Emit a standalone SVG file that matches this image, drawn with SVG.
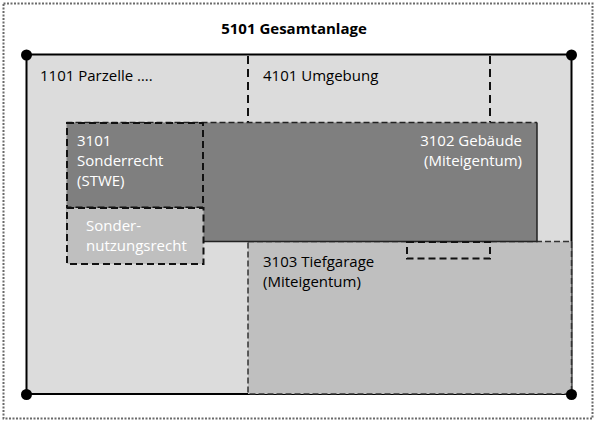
<svg xmlns="http://www.w3.org/2000/svg" width="596" height="423" viewBox="0 0 596 423">
<style>
.t{font-family:"Open Sans","Noto Sans","Liberation Sans",sans-serif;font-size:15px;fill:#000}
.w{fill:#ffffff}
.b{font-weight:bold}
.dash{fill:none;stroke:#111;stroke-width:2;stroke-dasharray:7 4}
</style>
<rect x="0" y="0" width="596" height="423" fill="#ffffff"/>
<rect id="frame" x="3.5" y="3.5" width="589" height="415" fill="none" stroke="#6a6a6a" stroke-width="2" stroke-dasharray="2 1.5"/>
<g id="title"><text class="t b" x="294" y="34" text-anchor="middle">5101 Gesamtanlage</text></g>
<g id="n5101">
<rect x="26.5" y="54.5" width="545" height="339.5" fill="#dcdcdc" stroke="#000" stroke-width="2"/>
<text class="t" x="40" y="81">1101 Parzelle ….</text>
<text class="t" x="263" y="81">4101 Umgebung</text>
</g>
<g id="connectors">
<line x1="248" y1="56" x2="248" y2="122" stroke="#111" stroke-width="2" stroke-dasharray="8 5"/>
<line x1="490" y1="56" x2="490" y2="122" stroke="#111" stroke-width="2" stroke-dasharray="8 5"/>
</g>
<g id="n3103">
<rect x="248" y="241.5" width="323.5" height="152.5" fill="#bfbfbf" stroke="#333" stroke-width="1.5" stroke-dasharray="6 3"/>
<text class="t" x="263" y="267">3103 Tiefgarage</text>
<text class="t" x="263" y="287">(Miteigentum)</text>
</g>
<g id="n3102">
<rect x="66.5" y="122.5" width="470.5" height="119" fill="#7f7f7f"/>
<path d="M66.5 122.5H537" fill="none" stroke="#222" stroke-width="1.5" stroke-dasharray="6 3"/>
<path d="M537 122.5V241.5H203" fill="none" stroke="#222" stroke-width="1.5"/>
<text class="t w" x="522" y="146" text-anchor="end">3102 Gebäude</text>
<text class="t w" x="522" y="166" text-anchor="end">(Miteigentum)</text>
</g>
<g id="n3101">
<rect x="67" y="123" width="136" height="84.5" fill="#7f7f7f"/>
<rect x="67" y="123" width="136" height="84.5" class="dash"/>
<text class="t w" x="77" y="146">3101</text>
<text class="t w" x="77" y="166">Sonderrecht</text>
<text class="t w" x="77" y="186">(STWE)</text>
</g>
<g id="nSNR">
<rect x="67" y="208" width="136.5" height="56" fill="#bfbfbf" stroke="#111" stroke-width="2" stroke-dasharray="7 4"/>
<text class="t w" x="86" y="231">Sonder-</text>
<text class="t w" x="86" y="251">nutzungsrecht</text>
</g>
<g id="nSmall">
<rect x="407" y="242" width="83" height="16.5" class="dash"/>
</g>
<g id="corners" fill="#000">
<circle cx="26.5" cy="55" r="5.5"/>
<circle cx="571.5" cy="55" r="5.5"/>
<circle cx="26.5" cy="394.5" r="5.5"/>
<circle cx="571.5" cy="394.5" r="5.5"/>
</g>
</svg>
